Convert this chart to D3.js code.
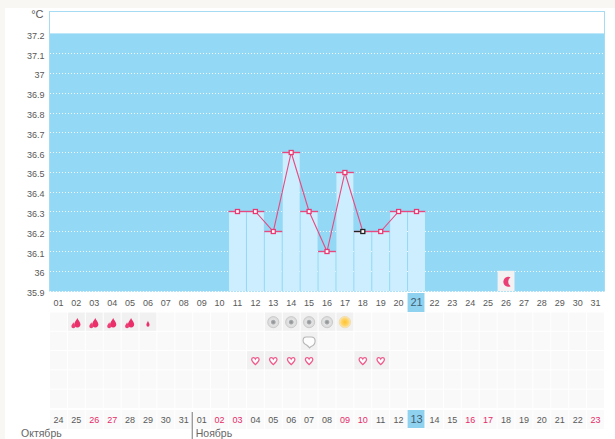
<!DOCTYPE html>
<html><head><meta charset="utf-8">
<script src="https://d3js.org/d3.v7.min.js"></script>
<style>html,body{margin:0;padding:0;background:#fff;overflow:hidden}svg{display:block}text{font-family:"Liberation Sans",Arial,sans-serif}</style>
</head><body><svg id="c" width="615" height="439"></svg>
<script>
const days=["01","02","03","04","05","06","07","08","09","10","11","12","13","14","15","16","17","18","19","20","21","22","23","24","25","26","27","28","29","30","31"];
const dates=["24","25","26","27","28","29","30","31","01","02","03","04","05","06","07","08","09","10","11","12","13","14","15","16","17","18","19","20","21","22","23"];
const redDateIdx=[2,3,9,10,16,17,23,24,30];
const yTicks=[37.2,37.1,37,36.9,36.8,36.7,36.6,36.5,36.4,36.3,36.2,36.1,36,35.9];
const tempDays=["11","12","13","14","15","16","17","18","19","20","21"];
const tempVals=[36.3,36.3,36.2,36.6,36.3,36.1,36.5,36.2,36.2,36.3,36.3];
const currentDay="21";
const blackPoint="18";
const months=[["Октябрь",0],["Ноябрь",8]];
const rows=[0,1,2,3,4];
const big=["02","03","04","05"], small=["06"];
const grayDots=["13","14","15","16"], sunDots=["17"], bubbles=["15"], hearts=["12","13","14","15","18","19"];
const moonDay="26", moonTemp=36;

const svg=d3.select("#c");
const x=d3.scaleBand().domain(days).range([49.5,604.5]);
const y=d3.scaleLinear().domain([35.9,37.2]).range([290.6,33.4]);
const rowY=d3.scaleBand().domain(rows).range([312.5,409]);
const cx=d=>x(d)+x.bandwidth()/2;
const ry=v=>Math.round(y(v))+.5;
const pink="#e84a80", blue="#93d8f5", txt="#585858";

svg.append("rect").attr("width",615).attr("height",439).attr("fill","#f9f7f4");
svg.append("rect").attr("x",5).attr("y",8).attr("width",610).attr("height",431).attr("fill","#fff");
const defs=svg.append("defs");
const rg=defs.append("radialGradient").attr("id","sun");
rg.append("stop").attr("offset","0%").attr("stop-color","#ffc230");
rg.append("stop").attr("offset","60%").attr("stop-color","#ffd566");
rg.append("stop").attr("offset","100%").attr("stop-color","#f6e8c8");
const rg2=defs.append("radialGradient").attr("id","gray");
rg2.append("stop").attr("offset","0%").attr("stop-color","#8a8e91");
rg2.append("stop").attr("offset","35%").attr("stop-color","#a9adaf");
rg2.append("stop").attr("offset","50%").attr("stop-color","#e4e4e4");
rg2.append("stop").attr("offset","100%").attr("stop-color","#d8d8d8");

// plot
svg.append("rect").attr("x",49.5).attr("y",11.5).attr("width",555).attr("height",291-11.5)
  .attr("fill","#fff").attr("stroke","#a6dcf3");
svg.append("rect").attr("x",50).attr("y",y(37.2)).attr("width",554).attr("height",291.5-y(37.2)).attr("fill",blue);
svg.selectAll(".g").data(yTicks.slice(1)).join("line")
  .attr("x1",50).attr("x2",604).attr("y1",ry).attr("y2",ry)
  .attr("stroke","#fff").attr("stroke-dasharray","1 2").attr("opacity",.9);
svg.selectAll(".yl").data(yTicks).join("text")
  .attr("x",44.5).attr("y",d=>y(d)+5.5).attr("text-anchor","end").attr("font-size",9).attr("fill",txt)
  .text(d=>d3.format("")(d));
svg.append("text").attr("x",43.5).attr("y",18).attr("text-anchor","end").attr("font-size",11).attr("fill",txt).text("°C");

// bars
const temps=tempDays.map((d,i)=>({d,v:tempVals[i]}));
svg.selectAll(".b").data(temps).join("rect")
  .attr("x",d=>x(d.d)+.5).attr("width",x.bandwidth()-1).attr("y",d=>ry(d.v)).attr("height",d=>291-ry(d.v)).attr("fill","#cdeefe");
svg.selectAll(".cap").data(temps).join("line")
  .attr("x1",d=>x(d.d)).attr("x2",d=>x(d.d)+x.bandwidth()).attr("y1",d=>ry(d.v)).attr("y2",d=>ry(d.v))
  .attr("stroke",pink).attr("stroke-width",1.4);
svg.append("path").attr("fill","none").attr("stroke",pink).attr("stroke-width",1.1)
  .attr("d",d3.line().x(d=>cx(d.d)).y(d=>ry(d.v))(temps));
svg.selectAll(".blk").data(temps.filter(d=>d.d===blackPoint)).join("line")
  .attr("x1",d=>x(d.d)).attr("x2",d=>cx(d.d)).attr("y1",d=>ry(d.v)).attr("y2",d=>ry(d.v)).attr("stroke","#222").attr("stroke-width",1.2);
svg.selectAll(".p").data(temps).join("rect")
  .attr("x",d=>cx(d.d)-2).attr("y",d=>ry(d.v)-2).attr("width",4).attr("height",4).attr("fill","#fff")
  .attr("stroke",d=>d.d===blackPoint?"#222":"#ea3a74").attr("stroke-width",1.3);

// moon
svg.append("rect").attr("x",x(moonDay)+.5).attr("width",x.bandwidth()-1).attr("y",y(moonTemp)).attr("height",291-y(moonTemp)).attr("fill","#f4f1f2");
svg.append("path").attr("fill","#ea3f75").attr("transform",`translate(${cx(moonDay)+1.5},${y(moonTemp)+11})`)
  .attr("d","M3,-4.5 A5,5 0 1 0 3,4.5 A5.5,5.5 0 0 1 3,-4.5Z");

// current-day highlights
svg.append("rect").attr("x",x(currentDay)).attr("width",x.bandwidth()-1).attr("y",293).attr("height",19).attr("fill","#8fd2f0");
svg.append("rect").attr("x",x(currentDay)).attr("width",x.bandwidth()-1).attr("y",410).attr("height",18).attr("fill","#8fd2f0");

// axis labels
svg.selectAll(".d").data(days).join("text").attr("x",cx).attr("y",306).attr("text-anchor","middle")
  .attr("font-size",d=>d===currentDay?11:9).attr("fill",d=>d===currentDay?"#3f5f70":txt).text(d=>d);

// cell grid
const cells=rows.flatMap(r=>days.map(d=>({r,d})));
const marks=[[0,big],[0,small],[0,grayDots],[0,sunDots],[1,bubbles],[2,hearts]];
const active=(c)=>marks.some(([r,a])=>r===c.r&&a.includes(c.d));
svg.selectAll(".cell").data(cells).join("rect")
  .attr("x",c=>x(c.d)+.5).attr("width",x.bandwidth()-1).attr("y",c=>rowY(c.r)).attr("height",rowY.bandwidth()-1)
  .attr("fill",c=>active(c)?"#f1f1f1":"#f9f9f9");
svg.selectAll(".botc").data(days.filter(d=>d!==currentDay)).join("rect")
  .attr("x",d=>x(d)+.5).attr("width",x.bandwidth()-1).attr("y",410).attr("height",19).attr("fill","#fafafa");
svg.selectAll(".dt").data(dates).join("text").attr("x",(d,i)=>cx(days[i])).attr("y",423).attr("text-anchor","middle")
  .attr("font-size",(d,i)=>days[i]===currentDay?11:9)
  .attr("fill",(d,i)=>redDateIdx.includes(i)?"#e62a68":(days[i]===currentDay?"#3f5f70":txt)).text(d=>d);

const rc=r=>rowY(r)+rowY.bandwidth()/2;
const drop=(s,w=1)=>`M0,${-5*s} C${.6*s*w},${-2.8*s} ${3.3*s*w},${-.8*s} ${3.3*s*w},${1.7*s} A${3.3*s*w},${3.3*s} 0 0 1 ${-3.3*s*w},${1.7*s} C${-3.3*s*w},${-.8*s} ${-.6*s*w},${-2.8*s} 0,${-5*s}Z`;
const g=svg.append("g").attr("class","icons");
big.forEach(d=>{
  g.append("path").attr("d",drop(.95)).attr("fill","#ea2f6a").attr("transform",`translate(${cx(d)+1},${rc(0)+.5})`);
  g.append("path").attr("d",drop(.6)).attr("fill","#ec3f76").attr("transform",`translate(${cx(d)-3},${rc(0)+3})`);
});
small.forEach(d=>g.append("path").attr("d",drop(.6,.8)).attr("fill","#ea2f6a").attr("transform",`translate(${cx(d)},${rc(0)+1.5})`));
grayDots.forEach(d=>{
  g.append("circle").attr("cx",cx(d)).attr("cy",rc(0)).attr("r",5.6).attr("fill","url(#gray)").attr("stroke","#c4c4c4").attr("stroke-width",.8);
});
sunDots.forEach(d=>{
  g.append("circle").attr("cx",cx(d)).attr("cy",rc(0)).attr("r",5.7).attr("fill","url(#sun)").attr("stroke","#f2d9a0").attr("stroke-width",.8);
});
bubbles.forEach(d=>{
  g.append("path").attr("transform",`translate(${cx(d)},${rc(1)+.5})`).attr("fill","#fdfdfd").attr("stroke","#b5b5b5").attr("stroke-width",1.1)
   .attr("d","M-3,-5 H2 Q6,-5 6,-1 Q6,3 2,4.5 L0.5,6 Q-1,4 -2.5,3 Q-6,1.5 -6,-1.5 Q-6,-5 -3,-5Z");
});
hearts.forEach(d=>{
  g.append("path").attr("transform",`translate(${cx(d)},${rc(2)})`).attr("fill","#fff").attr("stroke","#ee5b8c").attr("stroke-width",1.3)
   .attr("d","M0,3.8 C-2,2 -3.7,0.6 -3.7,-1.2 C-3.7,-3.4 -1,-3.8 0,-1.7 C1,-3.8 3.7,-3.4 3.7,-1.2 C3.7,0.6 2,2 0,3.8Z");
});

// months
svg.append("line").attr("x1",x(days[months[1][1]])-.5).attr("x2",x(days[months[1][1]])-.5).attr("y1",412).attr("y2",439).attr("stroke","#777");
svg.selectAll(".m").data(months).join("text")
  .attr("x",d=>d[1]===0?21:x(days[d[1]])+3).attr("y",436.5).attr("font-size",10.5).attr("fill","#666").text(d=>d[0]);
</script></body></html>
